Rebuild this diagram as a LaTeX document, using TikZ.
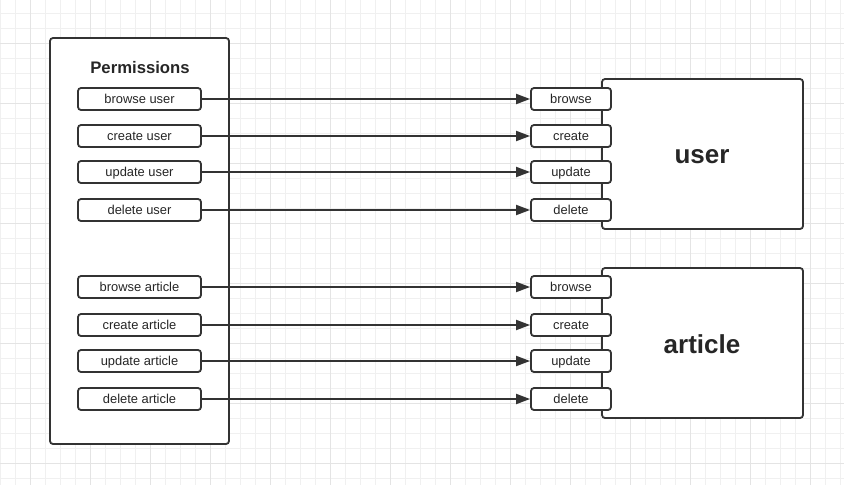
\documentclass[tikz,border=0pt]{standalone}
\usepackage{fontspec}
\setmainfont{Liberation Sans}
\usetikzlibrary{arrows.meta,positioning}
\definecolor{linegray}{HTML}{333333}
\definecolor{gridminor}{HTML}{F0F0F0}
\definecolor{gridmajor}{HTML}{E4E4E4}
\tikzstyle{Group} = [draw=linegray, line width=1.8pt, rounded corners=3pt, fill=white, inner sep=0pt]
\tikzstyle{Perm} = [draw=linegray, line width=1.8pt, rounded corners=3pt, fill=white, minimum width=123pt, minimum height=22pt, inner sep=0pt, text height=11pt, text depth=1.5pt, font=\fontsize{12.9}{14}\selectfont, text=black!85]
\tikzstyle{Action} = [Perm, minimum width=80pt]
\tikzstyle{Link} = [draw=linegray, line width=1.8pt, -{Triangle[length=14pt,width=10pt]}]
\tikzstyle{Big} = [font=\bfseries\fontsize{26}{28}\selectfont, text=black!85]

\begin{document}
\begin{tikzpicture}[x=1pt,y=-1pt]
    \useasboundingbox (0,0) rectangle (844,485);
    \fill[white] (0,0) rectangle (844,485);
    % background grid
    \foreach \gx in {0,15,...,840} \draw[gridminor, line width=0.8pt] (\gx,0) -- (\gx,485);
    \foreach \gy in {13,28,...,485} \draw[gridminor, line width=0.8pt] (0,\gy) -- (844,\gy);
    \foreach \gx in {30,90,...,840} \draw[gridmajor, line width=0.8pt] (\gx,0) -- (\gx,485);
    \foreach \gy in {43,103,...,485} \draw[gridmajor, line width=0.8pt] (0,\gy) -- (844,\gy);

    % containers
    \node[Group, minimum width=179pt, minimum height=406pt] (perms) at (139.5,241) {};
    \node[font=\bfseries\fontsize{16.7}{18}\selectfont, text=black!85] (title) at (140,68) {Permissions};
    \node[Group, minimum width=201pt, minimum height=150pt] (user) at (702.5,154) {};
    \node[Group, minimum width=201pt, minimum height=150pt] (article) at (702.5,343) {};
    \node[Big] (userlabel) at (702,157) {user};
    \node[Big] (articlelabel) at (702,344) {article};

    % permissions
    \node[Perm] (buser) at (139.5,99)     {browse user};
    \node[Perm] (cuser) at (139.5,136)    {create user};
    \node[Perm] (uuser) at (139.5,172)    {update user};
    \node[Perm] (duser) at (139.5,210)    {delete user};
    \node[Perm] (barticle) at (139.5,287) {browse article};
    \node[Perm] (carticle) at (139.5,325) {create article};
    \node[Perm] (uarticle) at (139.5,361) {update article};
    \node[Perm] (darticle) at (139.5,399) {delete article};

    % actions
    \node[Action] (ubrowse) at (571,99)  {browse};
    \node[Action] (ucreate) at (571,136) {create};
    \node[Action] (uupdate) at (571,172) {update};
    \node[Action] (udelete) at (571,210) {delete};
    \node[Action] (abrowse) at (571,287) {browse};
    \node[Action] (acreate) at (571,325) {create};
    \node[Action] (aupdate) at (571,361) {update};
    \node[Action] (adelete) at (571,399) {delete};

    \draw[Link] (buser) to (ubrowse);
    \draw[Link] (cuser) to (ucreate);
    \draw[Link] (uuser) to (uupdate);
    \draw[Link] (duser) to (udelete);
    \draw[Link] (barticle) to (abrowse);
    \draw[Link] (carticle) to (acreate);
    \draw[Link] (uarticle) to (aupdate);
    \draw[Link] (darticle) to (adelete);
\end{tikzpicture}
\end{document}
